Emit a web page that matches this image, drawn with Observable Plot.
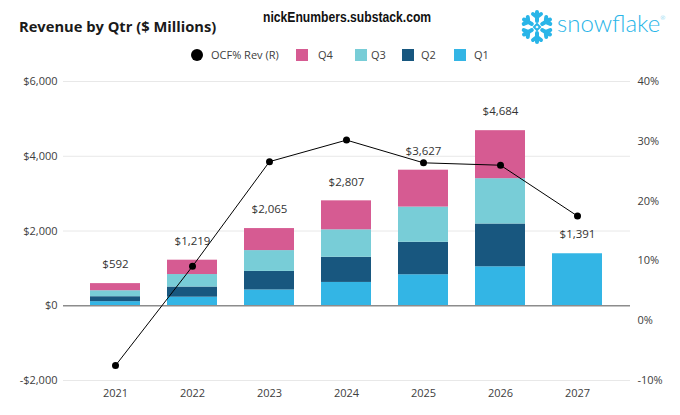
<!DOCTYPE html>
<html>
<head>
<meta charset="utf-8">
<script src="https://cdn.jsdelivr.net/npm/d3@7"></script>
<script src="https://cdn.jsdelivr.net/npm/@observablehq/plot@0.6"></script>
<style>
  html, body { margin: 0; padding: 0; background: #fff; }
  #wrap { position: relative; width: 680px; height: 415px; overflow: hidden; font-family: "Open Sans", sans-serif; }
  #header { position: relative; width: 680px; height: 70px; }
  .abs { position: absolute; white-space: nowrap; line-height: 1; }
  #title { left: 19px; top: 19px; font-size: 14.7px; font-weight: 700; color: #1a1a1a; }
  #site { left: 263px; top: 9px; font-family: "Liberation Sans", sans-serif; font-size: 15px; font-weight: 700; color: #111; transform: scaleX(0.81); transform-origin: 0 0; }
  #brand { left: 557px; top: 11px; font-family: Lato, sans-serif; font-weight: 300; font-size: 24px; color: #29B5E8; }
  #brand sup { font-size: 6px; vertical-align: 12px; }
  .leg { font-size: 11px; color: #404040; top: 49px; }
  .sw { position: absolute; width: 12px; height: 12px; top: 49px; }
  svg.plot { display: block; }
</style>
</head>
<body>
<div id="wrap">
  <div id="header">
    <div id="title" class="abs">Revenue by Qtr ($ Millions)</div>
    <div id="site" class="abs">nickEnumbers.substack.com</div>
    <svg class="abs" style="left:519px;top:9px" width="36" height="36" viewBox="-18 -18 36 36">
      <g stroke="#29B5E8" stroke-width="4" stroke-linecap="round" fill="none" id="flake"></g>
    </svg>
    <div id="brand" class="abs">snowflake<sup>®</sup></div>
    <div id="legend"></div>
  </div>
  <div id="chart"></div>
</div>
<script>
// ---- data ----
const years = ["2021", "2022", "2023", "2024", "2025", "2026", "2027"];
const q1 = [109, 229, 422, 624, 829, 1042, 1391];
const q2 = [133, 272, 497, 674, 869, 1145, null];
const q3 = [160, 334, 557, 734, 942, 1213, null];
const q4 = [190, 384, 589, 775, 987, 1284, null];
const totals = [592, 1219, 2065, 2807, 3627, 4684, 1391];
const ocfPct = [-7.5, 9.1, 26.6, 30.2, 26.4, 26.0, 17.5];
const quarters = ["Q1", "Q2", "Q3", "Q4"];
const quarterColors = ["#33B5E5", "#18577F", "#78CDD7", "#D65B92"];
const leftTicks = [-2000, 0, 2000, 4000, 6000];
const leftGrid = [-2000, 2000, 4000, 6000];
const rightTicks = [-10, 0, 10, 20, 30, 40];
const leftDomain = [-2000, 6000];
const rightDomain = [-10, 40];
const legendItems = ["Q4", "Q3", "Q2", "Q1"];

// ---- derived tables ----
const series = [q1, q2, q3, q4];
const stacked = [];
years.forEach((y, i) => {
  series.forEach((s, k) => {
    if (s[i] != null) stacked.push({year: y, quarter: quarters[k], value: s[i]});
  });
});
const toLeft = p => leftDomain[0] + (p - rightDomain[0]) / (rightDomain[1] - rightDomain[0]) * (leftDomain[1] - leftDomain[0]);
const fromLeft = v => rightDomain[0] + (v - leftDomain[0]) / (leftDomain[1] - leftDomain[0]) * (rightDomain[1] - rightDomain[0]);
const ocf = years.map((y, i) => ({year: y, v: toLeft(ocfPct[i])}));
const tot = years.map((y, i) => ({year: y, total: totals[i]}));
const usd = d => (d < 0 ? "-" : "") + "$" + d3.format(",")(Math.abs(d));

// ---- snowflake icon (decoration) ----
(function () {
  const g = document.getElementById("flake");
  const ns = "http://www.w3.org/2000/svg";
  const angles = [90, 30, -30, -90, 150, 210];
  angles.forEach(a => {
    const r = a * Math.PI / 180;
    const c = Math.cos(r), s = -Math.sin(r);
    const p = document.createElementNS(ns, "path");
    const x1 = c * 6, y1 = s * 6, x2 = c * 15, y2 = s * 15;
    const px = -s, py = c;
    const cx = c * 10, cy = s * 10;
    const d = `M${x1},${y1}L${x2},${y2}M${cx + px * 4 + c * 3},${cy + py * 4 + s * 3}L${cx},${cy}L${cx - px * 4 + c * 3},${cy - py * 4 + s * 3}`;
    p.setAttribute("d", d);
    g.appendChild(p);
  });
  const dm = document.createElementNS(ns, "path");
  dm.setAttribute("d", "M0,-3L3,0L0,3L-3,0Z");
  dm.setAttribute("stroke-width", "2");
  g.appendChild(dm);
})();

// ---- legend ----
(function () {
  const L = document.getElementById("legend");
  const dot = document.createElement("div");
  dot.className = "abs";
  dot.style.cssText = "left:191px;top:49px;width:12px;height:12px;border-radius:50%;background:#000;";
  L.appendChild(dot);
  const t0 = document.createElement("div");
  t0.className = "abs leg";
  t0.style.left = "211px";
  t0.textContent = "OCF% Rev (R)";
  L.appendChild(t0);
  const swX = [296, 355, 402, 454];
  const txX = [318, 371, 421, 474];
  legendItems.forEach((q, i) => {
    const sw = document.createElement("div");
    sw.className = "sw";
    sw.style.left = swX[i] + "px";
    sw.style.background = quarterColors[quarters.indexOf(q)];
    L.appendChild(sw);
    const t = document.createElement("div");
    t.className = "abs leg";
    t.style.left = txX[i] + "px";
    t.textContent = q;
    L.appendChild(t);
  });
})();

// ---- chart ----
const chart = Plot.plot({
  width: 680,
  height: 345,
  marginTop: 11,
  marginBottom: 35,
  marginLeft: 63,
  marginRight: 50,
  style: {fontFamily: "Open Sans, sans-serif", fontSize: "11px", color: "#404040", background: "#fff"},
  x: {domain: years, padding: 0.35, axis: null},
  y: {domain: leftDomain, axis: null},
  color: {domain: quarters, range: quarterColors},
  marks: [
    Plot.ruleY(leftGrid, {stroke: "#e8e8e8", strokeWidth: 1}),
    Plot.barY(stacked, {x: "year", y: "value", fill: "quarter", order: quarters}),
    Plot.ruleY([0], {stroke: "#8c8c8c", strokeWidth: 1.5}),
    Plot.text(tot, {x: "year", y: "total", text: d => usd(d.total), dy: -19, fill: "#333", fontSize: 11.5}),
    Plot.line(ocf, {x: "year", y: "v", stroke: "#000", strokeWidth: 1}),
    Plot.dot(ocf, {x: "year", y: "v", r: 3.5, fill: "#000"}),
    Plot.axisY({anchor: "left", ticks: leftTicks, tickFormat: usd, tickSize: 0, tickPadding: 6, label: null, fontSize: 11}),
    Plot.axisY({anchor: "right", ticks: rightTicks.map(toLeft), tickFormat: d => Math.round(fromLeft(d)) + "%", tickSize: 0, tickPadding: 7, label: null, fontSize: 11}),
    Plot.axisX({anchor: "bottom", tickSize: 0, tickPadding: 9, label: null, fontSize: 11})
  ]
});
document.getElementById("chart").appendChild(chart);
</script>
</body>
</html>
